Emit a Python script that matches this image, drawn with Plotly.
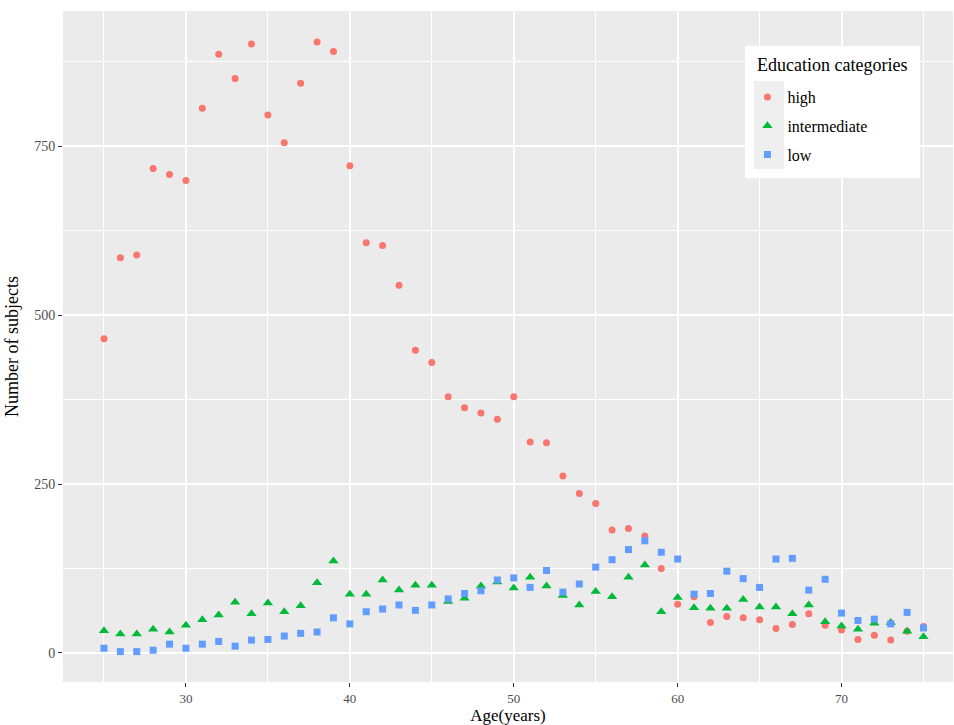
import plotly.graph_objects as go

ages = list(range(25, 76))

high = [465, 585, 589, 717, 708, 699, 806, 886, 850, 901,
        796, 755, 843, 904, 890, 721, 607, 603, 544, 448,
        430, 379, 363, 355, 346, 379, 312, 311, 262, 236,
        221, 182, 184, 173, 125, 72, 83, 45, 54, 52,
        49, 36, 42, 58, 41, 34, 20, 26, 19, 32, 39]

intermediate = [33, 28, 28, 35, 31, 41, 49, 56, 75, 58,
                74, 61, 70, 104, 136, 87, 87, 108, 93, 100,
                100, 76, 81, 99, 105, 96, 112, 99, 85, 71,
                91, 83, 112, 130, 61, 82, 67, 66, 66, 79,
                68, 68, 58, 71, 46, 40, 35, 44, 45, 32, 24]

low = [7, 2, 2, 4, 13, 7, 13, 17, 10, 19,
       20, 25, 29, 31, 52, 43, 61, 65, 71, 63,
       71, 80, 88, 92, 108, 111, 97, 122, 90, 102,
       127, 138, 153, 166, 149, 139, 87, 88, 121, 110,
       97, 139, 140, 93, 109, 59, 48, 50, 43, 60, 37]

series_names = ["high", "intermediate", "low"]
series_values = [high, intermediate, low]
colors = ["#F8766D", "#00BA38", "#619CFF"]
symbols = ["circle", "triangle-up", "square"]
sizes = [7, 9, 7]

x_ticks = [30, 40, 50, 60, 70]
y_ticks = [0, 250, 500, 750]

FONT = "Liberation Serif"

fig = go.Figure()
for name, vals, c, s, sz in zip(series_names, series_values, colors, symbols, sizes):
    fig.add_trace(go.Scatter(
        x=ages, y=vals, mode="markers", name=name, legendgroup=name,
        marker=dict(color=c, symbol=s, size=sz, line=dict(width=0)),
    ))

# legend box background (white) and key column (light grey), in paper coords
fig.add_shape(type="rect", xref="paper", yref="paper",
              x0=0.7663, x1=0.9629, y0=0.7511, y1=0.9478,
              fillcolor="white", line=dict(width=0), layer="above")
fig.add_shape(type="rect", xref="paper", yref="paper",
              x0=0.7764, x1=0.8101, y0=0.7645, y1=0.8957,
              fillcolor="#EFEFEF", line=dict(width=0), layer="above")

fig.add_annotation(
    text="Education categories", xref="paper", yref="paper",
    x=0.7775, y=0.9195, xanchor="left", yanchor="middle", showarrow=False,
    font=dict(size=18, family=FONT, color="black"),
)

fig.update_layout(
    width=954, height=725,
    margin=dict(l=63, r=1, t=11, b=43),
    paper_bgcolor="white",
    plot_bgcolor="#EBEBEB",
    font=dict(family=FONT, color="black"),
    showlegend=True,
    legend=dict(
        x=0.769, y=0.897, xanchor="left", yanchor="top",
        bgcolor="rgba(0,0,0,0)",
        font=dict(size=16, family=FONT, color="black"),
        tracegroupgap=5,
        itemwidth=30,
    ),
    xaxis=dict(
        range=[22.5, 76.8],
        tickvals=x_ticks,
        showgrid=True, gridcolor="white", gridwidth=1.6,
        minor=dict(dtick=10, tick0=25, showgrid=True, gridcolor="white", gridwidth=0.7),
        zeroline=False, showline=False,
        ticks="outside", ticklen=4, tickcolor="#333333", tickwidth=1,
        tickfont=dict(size=13, color="#4D4D4D", family=FONT),
        title=dict(text="Age(years)", font=dict(size=17, family=FONT, color="black"), standoff=2),
    ),
    yaxis=dict(
        range=[-43, 950],
        tickvals=y_ticks,
        showgrid=True, gridcolor="white", gridwidth=1.6,
        minor=dict(tickvals=[125, 375, 625, 875], showgrid=True, gridcolor="white", gridwidth=0.7),
        zeroline=False, showline=False,
        ticks="outside", ticklen=4, tickcolor="#333333", tickwidth=1,
        tickfont=dict(size=14, color="#4D4D4D", family=FONT),
        title=dict(text="Number of subjects", font=dict(size=18, family=FONT, color="black"), standoff=10),
    ),
)

fig.write_html("out.html")
